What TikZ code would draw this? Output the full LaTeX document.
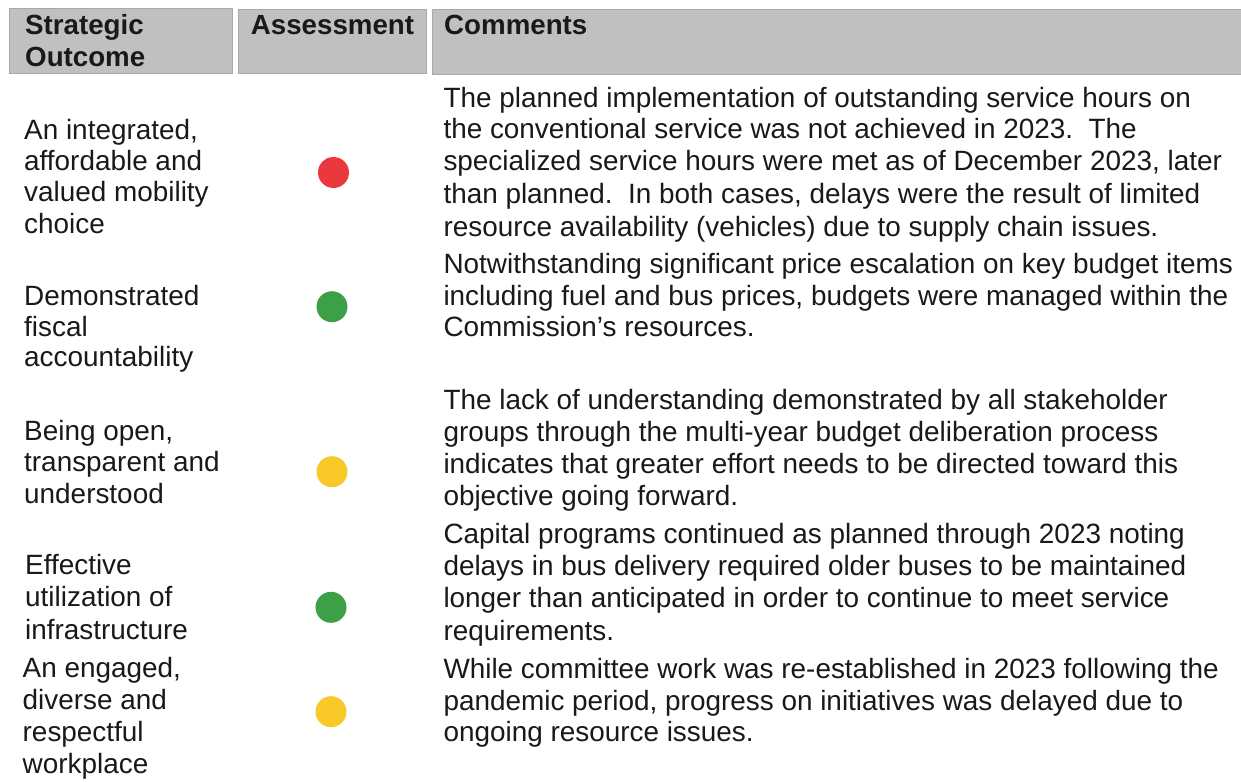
\documentclass[tikz,border=0pt]{standalone}
\usepackage{fontspec}
\setmainfont{Liberation Sans}
\definecolor{hdrgray}{RGB}{192,192,192}
\definecolor{hdredge}{RGB}{168,168,168}
\definecolor{dotred}{RGB}{234,56,62}
\definecolor{dotgreen}{RGB}{62,160,70}
\definecolor{dotyellow}{RGB}{249,201,42}
\definecolor{txt}{RGB}{25,25,25}
\begin{document}
\begin{tikzpicture}[x=1pt,y=-1pt,
  hdr/.style={draw=hdredge, fill=hdrgray, line width=0.8pt, anchor=north west, inner sep=0pt, minimum height=64.4pt},
  ln/.style={anchor=base west, inner sep=0pt, text=txt, font=\fontsize{27.9}{32}\selectfont},
  hl/.style={ln, font=\fontsize{27.7}{32}\selectfont\bfseries},
  dot/.style={circle, minimum size=31pt, inner sep=0pt}]
\useasboundingbox[fill=white] (0,0) rectangle (1241,781);
% header
\node[hdr, minimum width=223pt] (h1) at (9.3,8.5) {};
\node[hdr, minimum width=187.7pt] (h2) at (238.3,8.7) {};
\node[hdr, minimum width=840pt] (h3) at (432.3,9.3) {};
\node[hl] (h1a) at (25,35) {Strategic};
\node[hl] (h1b) at (25,66.7) {Outcome};
\node[hl] (h2a) at (250.7,35) {Assessment};
\node[hl] (h3a) at (444,35) {Comments};
% outcomes
\node[ln] (o1a) at (24,139.3) {An integrated,};
\node[ln] (o1b) at (24,170.7) {affordable and};
\node[ln] (o1c) at (24,201.5) {valued mobility};
\node[ln] (o1d) at (24,233.3) {choice};
\node[ln] (o2a) at (24,305) {Demonstrated};
\node[ln] (o2b) at (24,336) {fiscal};
\node[ln] (o2c) at (24,366.7) {accountability};
\node[ln] (o3a) at (24,440) {Being open,};
\node[ln] (o3b) at (24,471.7) {transparent and};
\node[ln] (o3c) at (24,503.3) {understood};
\node[ln] (o4a) at (25,574) {Effective};
\node[ln] (o4b) at (25,606.7) {utilization of};
\node[ln] (o4c) at (25,639.3) {infrastructure};
\node[ln] (o5a) at (22.5,677.7) {An engaged,};
\node[ln] (o5b) at (22.5,709.3) {diverse and};
\node[ln] (o5c) at (22.5,741.7) {respectful};
\node[ln] (o5d) at (22.5,773.3) {workplace};
% assessment dots
\node[dot, fill=dotred] (d1) at (333.5,172.5) {};
\node[dot, fill=dotgreen] (d2) at (332,306.7) {};
\node[dot, fill=dotyellow] (d3) at (332,471.7) {};
\node[dot, fill=dotgreen] (d4) at (331,607.3) {};
\node[dot, fill=dotyellow] (d5) at (331,711.7) {};
% comments
\node[ln] (c1a) at (443.3,107.3) {The planned implementation of outstanding service hours on};
\node[ln] (c1b) at (443.3,138.8) {the conventional service was not achieved in 2023.\ \ The};
\node[ln] (c1c) at (443.3,170.7) {specialized service hours were met as of December 2023, later};
\node[ln] (c1d) at (443.3,203.3) {than planned.\ \ In both cases, delays were the result of limited};
\node[ln] (c1e) at (443.3,236) {resource availability (vehicles) due to supply chain issues.};
\node[ln] (c2a) at (443.3,273.3) {Notwithstanding significant price escalation on key budget items};
\node[ln] (c2b) at (443.3,305) {including fuel and bus prices, budgets were managed within the};
\node[ln] (c2c) at (443.3,336.7) {Commission’s resources.};
\node[ln] (c3a) at (443.3,409.3) {The lack of understanding demonstrated by all stakeholder};
\node[ln] (c3b) at (443.3,441.7) {groups through the multi-year budget deliberation process};
\node[ln] (c3c) at (443.3,473.3) {indicates that greater effort needs to be directed toward this};
\node[ln] (c3d) at (443.3,505) {objective going forward.};
\node[ln] (c4a) at (443.3,543.3) {Capital programs continued as planned through 2023 noting};
\node[ln] (c4b) at (443.3,575) {delays in bus delivery required older buses to be maintained};
\node[ln] (c4c) at (443.3,607.7) {longer than anticipated in order to continue to meet service};
\node[ln] (c4d) at (443.3,640) {requirements.};
\node[ln] (c5a) at (443.3,678.3) {While committee work was re-established in 2023 following the};
\node[ln] (c5b) at (443.3,710) {pandemic period, progress on initiatives was delayed due to};
\node[ln] (c5c) at (443.3,741.7) {ongoing resource issues.};
\end{tikzpicture}
\end{document}
